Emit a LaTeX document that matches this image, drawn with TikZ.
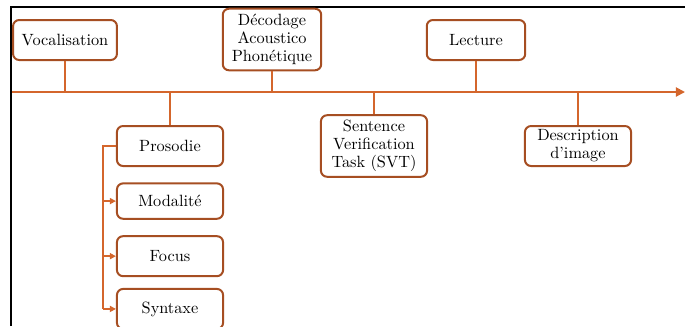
\documentclass[tikz,border=0pt]{standalone}
\usepackage{xcolor}
\definecolor{axisorange}{RGB}{212, 102, 44}
\definecolor{boxbrown}{RGB}{166, 78, 34}
\usetikzlibrary{arrows.meta, positioning}

\begin{document}
\begin{tikzpicture}[
    x=0.65pt, y=-0.65pt,
    node distance=10pt,
    taskbox/.style={
        rectangle, draw=boxbrown, fill=white, line width=1.3pt, rounded corners=4pt,
        minimum width=69pt, minimum height=26pt, inner ysep=1.5pt, align=center,
        font=\fontsize{10.6}{11.6}\selectfont
    },
    stem/.style={line width=1.3pt, color=axisorange},
    feedarrow/.style={
        -{Triangle[length=4pt, width=4pt]}, line width=1.1pt, color=axisorange
    }
]

\useasboundingbox (0,0) rectangle (685,326);

% Frame
\draw[line width=1.3pt] (11,326) -- (11,6.5) -- (686,6.5);

% Timeline
\coordinate (tstart) at (12,92);
\coordinate (tend) at (685,92);
\draw[stem, -{Triangle[length=6pt, width=6pt]}] (tstart) -- (tend);

% Tasks above the axis
\node[taskbox, minimum width=67.5pt] (vocal) at (65,40) {Vocalisation};
\node[taskbox, minimum width=64pt, minimum height=40pt] (decod) at (272,39.5) {Décodage\\Acoustico\\Phonétique};
\node[taskbox, minimum width=64pt] (lecture) at (476,40) {Lecture};

% Tasks below the axis
\node[taskbox] (prosodie) at (170,146) {Prosodie};
\node[taskbox, minimum height=40pt] (svt) at (374,146) {Sentence\\Verification\\Task (SVT)};
\node[taskbox] (descr) at (578,146) {Description\\d'image};

% Prosodie sub-tasks
\node[taskbox, minimum height=23pt, below=of prosodie] (modal) {Modalité};
\node[taskbox, below=of modal] (focus) {Focus};
\node[taskbox, below=7pt of focus] (syntaxe) {Syntaxe};

% Stems
\draw[stem] (vocal.south) -- (vocal.south |- tstart);
\draw[stem] (decod.south) -- (decod.south |- tstart);
\draw[stem] (lecture.south) -- (lecture.south |- tstart);
\draw[stem] (prosodie.north |- tstart) -- (prosodie.north);
\draw[stem] (svt.north |- tstart) -- (svt.north);
\draw[stem] (descr.north |- tstart) -- (descr.north);

% Bracket
\coordinate (rail) at (103,146);
\draw[stem] (prosodie.west) -- (rail |- prosodie.west) -- (rail |- syntaxe.west);
\foreach \n in {modal, focus, syntaxe}
    \draw[feedarrow] (rail |- \n.west) -- (\n.west);

\end{tikzpicture}
\end{document}
